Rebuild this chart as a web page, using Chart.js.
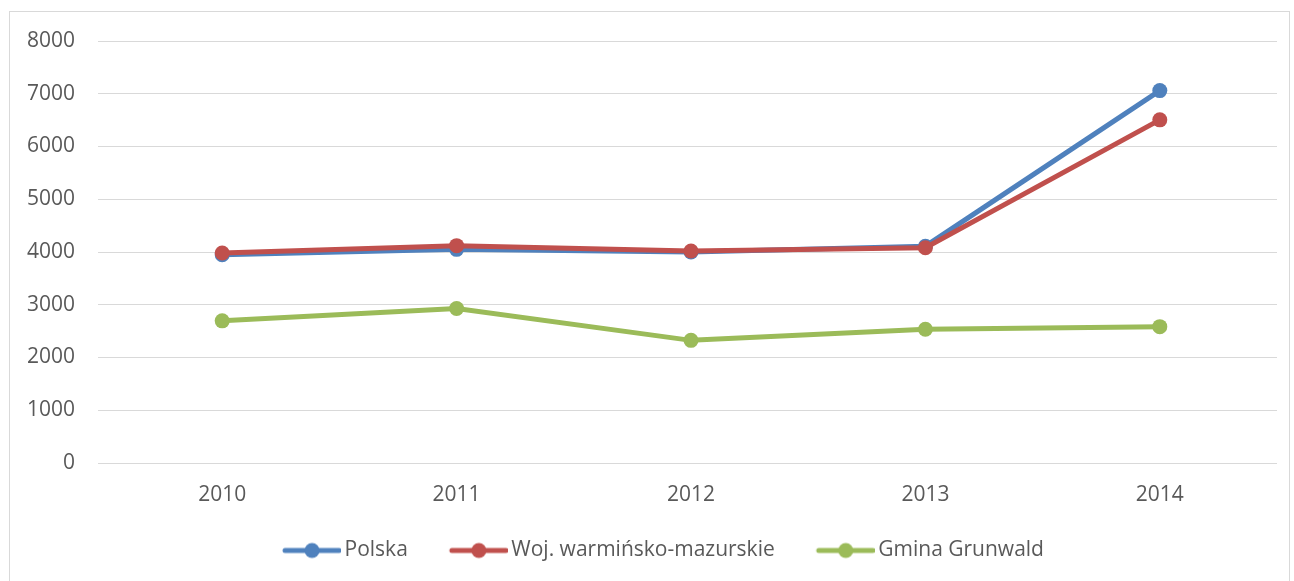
<!DOCTYPE html>
<html>
<head>
<meta charset="utf-8">
<script src="https://cdn.jsdelivr.net/npm/chart.js@4"></script>
<style>
  html, body { margin: 0; padding: 0; background: #fff; }
  #wrap { position: relative; width: 1294px; height: 581px; overflow: hidden; }
  #frame { position: absolute; left: 9px; top: 11px; width: 1281px; height: 620px; border: 1px solid #d9d9d9; box-sizing: border-box; }
  #chart { position: absolute; left: 0; top: 0; }
</style>
</head>
<body>
<div id="wrap">
  <div id="frame"></div>
  <canvas id="chart" width="1294" height="581"></canvas>
</div>
<script>
// Years on the x axis
const years = ['2010', '2011', '2012', '2013', '2014'];

// Series values
const polska = [3950, 4050, 4000, 4110, 7060];
const warminskoMazurskie = [3980, 4120, 4020, 4080, 6505];
const gminaGrunwald = [2695, 2930, 2325, 2535, 2585];

const seriesNames = ['Polska', 'Woj. warmińsko-mazurskie', 'Gmina Grunwald'];
const seriesColors = ['#4f81bd', '#c0504d', '#9bbb59'];

const FONT = '"Open Sans", "Liberation Sans", sans-serif';
const TEXT = '#595959';

// Legend marker: line with a dot, drawn into a small canvas
function legendMarker(color) {
    const c = document.createElement('canvas');
    c.width = 97;
    c.height = 18;
    const g = c.getContext('2d');
    g.strokeStyle = color;
    g.lineWidth = 5;
    g.lineCap = 'round';
    g.beginPath();
    g.moveTo(41, 9);
    g.lineTo(95, 9);
    g.stroke();
    g.fillStyle = color;
    g.beginPath();
    g.arc(68, 9, 7.5, 0, Math.PI * 2);
    g.fill();
    return c;
}

const markers = seriesColors.map(legendMarker);

function makeSet(i, values, order) {
    return {
        label: seriesNames[i],
        data: values,
        borderColor: seriesColors[i],
        backgroundColor: seriesColors[i],
        borderWidth: 5,
        pointRadius: 7.5,
        pointBorderWidth: 0,
        pointBackgroundColor: seriesColors[i],
        tension: 0,
        order: order
    };
}

new Chart(document.getElementById('chart'), {
    type: 'line',
    data: {
        labels: years,
        datasets: [
            makeSet(0, polska, 3),
            makeSet(1, warminskoMazurskie, 2),
            makeSet(2, gminaGrunwald, 1)
        ]
    },
    options: {
        responsive: false,
        animation: false,
        layout: { padding: { left: 18, right: 17, top: 41, bottom: 10 } },
        plugins: {
            tooltip: { enabled: false },
            legend: {
                position: 'bottom',
                labels: {
                    usePointStyle: true,
                    pointStyleWidth: 83,
                    padding: 10,
                    color: TEXT,
                    font: { family: FONT, size: 21 },
                    generateLabels: function (chart) {
                        return chart.data.datasets.map((ds, i) => ({
                            text: ds.label,
                            fillStyle: ds.borderColor,
                            strokeStyle: ds.borderColor,
                            lineWidth: 0,
                            pointStyle: markers[i],
                            fontColor: TEXT,
                            hidden: false,
                            datasetIndex: i
                        }));
                    }
                }
            }
        },
        scales: {
            x: {
                offset: true,
                grid: { display: false, drawTicks: false },
                border: { display: false },
                ticks: { color: TEXT, font: { family: FONT, size: 21 }, padding: 19 },
                afterFit: function (scale) { scale.height = 67; }
            },
            y: {
                min: 0,
                max: 8000,
                ticks: {
                    stepSize: 1000,
                    color: TEXT,
                    font: { family: FONT, size: 21 },
                    padding: 23,
                    callback: v => String(v)
                },
                grid: { color: '#d9d9d9', lineWidth: 1, tickLength: 7 },
                border: { display: false },
                afterFit: function (scale) { scale.width = 87; }
            }
        }
    }
});
</script>
</body>
</html>
